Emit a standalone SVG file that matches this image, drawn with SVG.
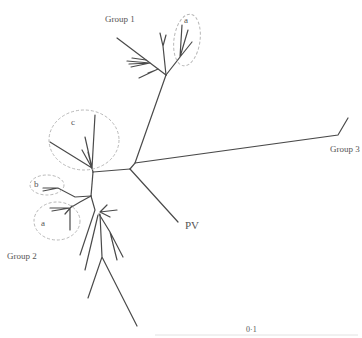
<svg xmlns="http://www.w3.org/2000/svg" width="362" height="338" viewBox="0 0 362 338">
<style>
.br{stroke:#4a4a4a;stroke-width:1.2;fill:none;stroke-linecap:round}
.el{stroke:#b8b8b8;stroke-width:1;fill:none;stroke-dasharray:3 2}
.t{font-family:"Liberation Serif",serif;fill:#555;font-size:9px}
</style>
<rect width="362" height="338" fill="#fff"/>
<g id="connectors">
<!-- central -->
<path class="br" d="M130,169 L135,163 L338,135 L348,118"/>
<path class="br" d="M130,169 L178,222"/>
<path class="br" d="M135,163 L166,75"/>
<!-- group 1 -->
<path class="br" d="M166,75 L117,38"/>
<path class="br" d="M150,63 L127,61 M150,63 L129,64 M150,63 L131,67 M146,60 L132,58"/>
<path class="br" d="M158,69 L139,78 M156,70 L148,73"/>
<path class="br" d="M166,75 L163,46 L160,33 M163,46 L166,35"/>
<path class="br" d="M166,75 L180,57 L182,25 M180,57 L188,30 M180,57 L192,42"/>
<!-- c cluster -->
<path class="br" d="M130,169 L93,172"/>
<path class="br" d="M92,168 L95,115 M92,168 L50,142 M92,168 L85,137 M92,168 L82,150 M92,168 L88,152"/>
<path class="br" d="M93,172 L92,168"/>
<!-- b / a -->
<path class="br" d="M93,172 L91,196"/>
<path class="br" d="M91,196 L75,197 L58,188 L43,188 M58,188 L43,191"/>
<path class="br" d="M91,196 L80,202 L70,208 L50,208 M70,208 L52,211 M70,208 L70,230 M72,206 L65,214"/>
<!-- lower fan -->
<path class="br" d="M91,196 L95,210 L80,255 M98,215 L85,270"/>
<path class="br" d="M100,212 L107,205 M100,212 L117,210 M100,212 L110,217"/>
<path class="br" d="M99,214 L110,232 L123,257 M110,232 L117,260"/>
<path class="br" d="M100,214 L102,257 L88,298 M102,257 L137,326"/>
<!-- scale bar -->
<path d="M155,335 L358,335" stroke="#e2e2e2" stroke-width="1"/>
</g>
<g id="group1">
<text class="t" x="105" y="22">Group 1</text>
<ellipse class="el" cx="187" cy="40" rx="13" ry="26" transform="rotate(8 187 40)"/>
<text class="t" x="184" y="23">a</text>
</g>
<g id="groupc">
<ellipse class="el" cx="84" cy="140" rx="35" ry="30"/>
<text class="t" x="71" y="125">c</text>
</g>
<g id="groupb">
<ellipse class="el" cx="47" cy="185" rx="17" ry="10"/>
<text class="t" x="34" y="187">b</text>
</g>
<g id="groupa">
<ellipse class="el" cx="57" cy="221" rx="23" ry="19"/>
<text class="t" x="41" y="226">a</text>
</g>
<g id="group2"><text class="t" x="7" y="259">Group 2</text></g>
<g id="group3"><text class="t" x="330" y="152">Group 3</text></g>
<g id="pv"><text class="t" x="185" y="229" style="font-size:11px">PV</text></g>
<g id="scale"><text class="t" x="246" y="332" style="font-size:8px">0·1</text></g>
</svg>
